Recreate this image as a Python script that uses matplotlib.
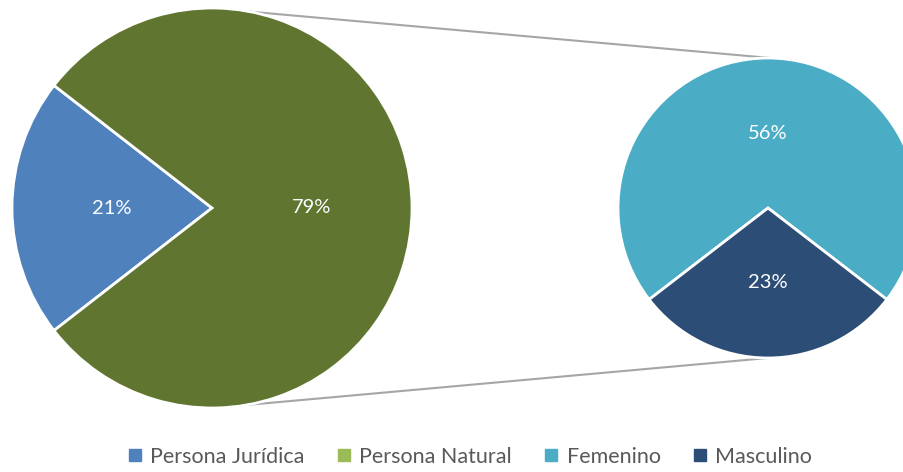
import numpy as np
import matplotlib.pyplot as plt
from matplotlib.lines import Line2D

# main pie: Persona Jurídica / Persona Natural
main_labels = ['Persona Jurídica', 'Persona Natural']
main_values = [21, 79]
# secondary pie splits Persona Natural by sex (shares of the grand total)
sub_labels = ['Femenino', 'Masculino']
sub_values = [56, 23]

main_colors = ['#4F81BD', '#5F7530']
legend_colors = ['#4F81BD', '#9BBB59', '#4BACC6', '#2C4D75']
sub_colors = ['#4BACC6', '#2C4D75']

total = sum(main_values)

fig = plt.figure(figsize=(9.04, 4.72), dpi=100)
ax = fig.add_axes([0, 0, 1, 1])

c1, r1 = (212, 264), 200
c2, r2 = (768, 264), 150

label_style = dict(color='white', fontsize=14.5, family='Lato')

# left pie, Persona Jurídica centred on the left
start1 = 180 - main_values[0] / total * 360 / 2
ax.pie(main_values, colors=main_colors, startangle=start1,
       center=c1, radius=r1, autopct='%1.0f%%', pctdistance=0.5,
       wedgeprops=dict(edgecolor='white', linewidth=2),
       textprops=label_style, frame=True)

# right pie, Masculino centred at the bottom
sub_sum = sum(sub_values)
start2 = 270 + sub_values[1] / sub_sum * 360 / 2
ax.pie(sub_values, colors=sub_colors, startangle=start2,
       center=c2, radius=r2, pctdistance=0.5,
       autopct=lambda p: f'{p * sub_sum / 100:.0f}%',
       wedgeprops=dict(edgecolor='white', linewidth=2),
       textprops=label_style, frame=True)
ax.set_xlim(0, 904)
ax.set_ylim(0, 472)
ax.set_aspect('equal')
ax.axis('off')


# connector lines between the pies
def on_circle(c, r, deg):
    t = np.deg2rad(deg)
    return c[0] + r * np.cos(t), c[1] + r * np.sin(t)


for a_left, a_right in [(79, 89), (-80, 270)]:
    x0, y0 = on_circle(c1, r1, a_left)
    x1, y1 = on_circle(c2, r2, a_right)
    ax.plot([x0, x1], [y0, y1], color='#A6A6A6', lw=1.5, zorder=0)

handles = [Line2D([], [], marker='s', linestyle='', color=c, markersize=8)
           for c in legend_colors]
fig.legend(handles, main_labels + sub_labels, loc='center', ncol=4,
           frameon=False, bbox_to_anchor=(0.519, 15 / 472),
           handlelength=0.8, handletextpad=0.3, columnspacing=1.45,
           borderpad=0, prop=dict(family='Lato', size=15.5),
           labelcolor='#595959')

fig.savefig('out.png', dpi=100)
